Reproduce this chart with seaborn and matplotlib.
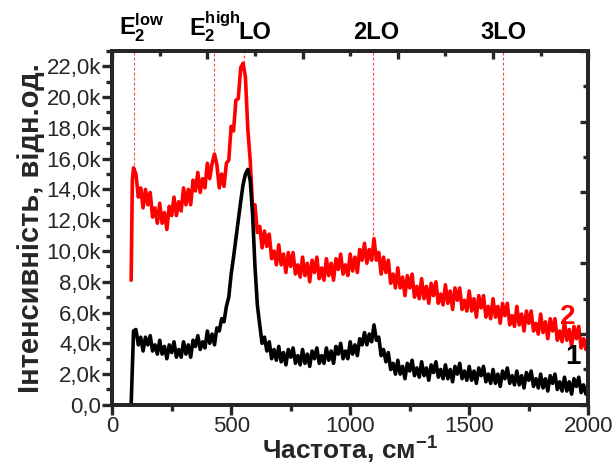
import numpy as np
import pandas as pd
import matplotlib
matplotlib.use("Agg")
import matplotlib.pyplot as plt
import seaborn as sns
from matplotlib.ticker import MultipleLocator, FuncFormatter

# ---------------- data ----------------
freq = [80, 85, 90] + list(range(100, 2001, 10))

# spectrum 2 (red), intensity in thousands
red_k = [
    8.1, 14.6, 15.4,
    15.0, 13.5, 14.1, 12.8, 14.0, 13.0, 13.8, 12.2, 12.8, 11.8,   # 100-190
    13.1, 11.8, 12.5, 11.4, 12.9, 12.3, 13.5, 12.3, 13.2, 12.6,   # 200-290
    14.1, 13.0, 14.0, 13.0, 14.6, 13.9, 15.1, 13.8, 14.7, 14.1,   # 300-390
    15.7, 14.7, 15.7, 16.3, 15.6, 14.1, 15.0, 14.2, 15.7, 15.9,   # 400-490
    18.1, 17.8, 19.8, 19.9, 21.9, 22.2, 21.3, 17.9, 15.9, 12.9,   # 500-590
    13.0, 11.2, 11.6, 10.2, 11.3, 10.3, 11.1, 9.5, 10.0, 9.1,     # 600-690
    10.4, 9.1, 9.8, 8.6, 9.9, 9.0, 9.9, 8.5, 9.1, 8.3,            # 700-790
    9.6, 8.4, 9.2, 8.0, 9.4, 8.6, 9.6, 8.2, 8.9, 8.1,             # 800-890
    9.5, 8.4, 9.2, 8.1, 9.5, 8.8, 9.8, 8.5, 9.1, 8.4,             # 900-990
    9.8, 8.7, 9.6, 8.6, 10.1, 9.4, 10.5, 9.2, 10.1, 9.4,          # 1000-1090
    10.8, 9.4, 9.9, 8.5, 9.6, 8.6, 9.4, 7.9, 8.5, 7.6,            # 1100-1190
    8.9, 7.6, 8.3, 7.1, 8.4, 7.6, 8.5, 7.0, 7.7, 6.9,             # 1200-1290
    8.2, 6.9, 7.7, 6.6, 7.9, 7.1, 8.0, 6.6, 7.2, 6.5,             # 1300-1390
    7.8, 6.6, 7.4, 6.2, 7.6, 6.8, 7.6, 6.2, 6.8, 6.1,             # 1400-1490
    7.4, 6.1, 6.9, 5.7, 7.1, 6.3, 7.1, 5.7, 6.4, 5.6,             # 1500-1590
    6.9, 5.7, 6.4, 5.3, 6.6, 5.8, 6.6, 5.2, 5.8, 5.1,             # 1600-1690
    6.4, 5.2, 5.9, 4.8, 6.1, 5.3, 6.1, 4.8, 5.3, 4.6,             # 1700-1790
    5.9, 4.7, 5.4, 4.3, 5.6, 4.8, 5.6, 4.2, 4.8, 4.1,             # 1800-1890
    5.4, 4.2, 4.9, 3.8, 5.1, 4.3, 5.1, 3.7, 4.3, 3.6,             # 1900-1990
    4.6,                                                          # 2000
]

# spectrum 1 (black), intensity in thousands
black_k = [
    0.0, 2.5, 4.8,
    4.9, 3.9, 4.4, 3.5, 4.4, 3.9, 4.5, 3.5, 3.9, 3.3,             # 100-190
    4.2, 3.3, 3.8, 3.0, 3.9, 3.4, 4.1, 3.1, 3.6, 3.1,             # 200-290
    4.1, 3.3, 3.9, 3.1, 4.2, 3.8, 4.5, 3.6, 4.1, 3.7,             # 300-390
    4.8, 4.0, 4.6, 3.9, 5.0, 4.8, 5.6, 5.4, 6.4, 7.0,             # 400-490
    8.5, 9.6, 10.8, 12.0, 13.2, 14.3, 15.0, 15.3, 14.6, 12.4,     # 500-590
    9.0, 6.5, 5.2, 4.0, 4.4, 3.5, 4.1, 3.0, 3.6, 2.9,             # 600-690
    3.8, 2.8, 3.4, 2.6, 3.6, 3.1, 3.7, 2.7, 3.2, 2.6,             # 700-790
    3.6, 2.7, 3.3, 2.5, 3.5, 3.0, 3.7, 2.7, 3.2, 2.7,             # 800-890
    3.7, 2.9, 3.5, 2.7, 3.8, 3.3, 4.0, 3.0, 3.5, 3.0,             # 900-990
    4.1, 3.3, 3.9, 3.2, 4.3, 3.9, 4.7, 3.9, 4.6, 4.1,             # 1000-1090
    5.2, 4.2, 4.4, 3.2, 3.6, 2.8, 3.4, 2.3, 2.7, 2.0,             # 1100-1190
    2.9, 2.0, 2.5, 1.7, 2.7, 2.2, 2.9, 1.9, 2.4, 1.8,             # 1200-1290
    2.8, 1.9, 2.4, 1.6, 2.6, 2.1, 2.8, 1.8, 2.3, 1.7,             # 1300-1390
    2.6, 1.7, 2.3, 1.5, 2.5, 2.0, 2.7, 1.7, 2.2, 1.6,             # 1400-1490
    2.5, 1.6, 2.2, 1.4, 2.4, 1.9, 2.5, 1.5, 2.0, 1.4,             # 1500-1590
    2.3, 1.4, 2.0, 1.2, 2.2, 1.7, 2.4, 1.4, 1.9, 1.3,             # 1600-1690
    2.2, 1.3, 1.9, 1.1, 2.1, 1.6, 2.2, 1.2, 1.7, 1.1,             # 1700-1790
    2.0, 1.1, 1.7, 0.9, 1.9, 1.4, 2.0, 1.0, 1.5, 0.9,             # 1800-1890
    1.8, 0.9, 1.5, 0.7, 1.7, 1.2, 1.8, 0.8, 1.3, 0.7,             # 1900-1990
    1.4,                                                          # 2000
]

peak_names = [r"$\mathbf{E_2^{low}}$", r"$\mathbf{E_2^{high}}$", "LO", "2LO", "3LO"]
peak_pos = [92, 430, 555, 1097, 1640]
peak_line_end_k = [15.6, 16.2, 21.9, 10.7, 6.8]
peak_label_x = [125, 430, 598, 1110, 1645]

series_labels = ["2", "1"]
series_label_pos = [(1880, 5.7), (1905, 3.1)]

xlabel = "Частота, см$\\mathbf{^{-1}}$"
ylabel = "Інтенсивність, відн.од."

df = pd.DataFrame({
    "freq": freq * 2,
    "intensity": [v * 1000 for v in red_k] + [v * 1000 for v in black_k],
    "series": ["2"] * len(freq) + ["1"] * len(freq),
})

# ---------------- style ----------------
sns.set_style("ticks")
plt.rcParams["font.family"] = ["Liberation Sans", "DejaVu Sans"]
plt.rcParams["mathtext.fontset"] = "custom"
plt.rcParams["mathtext.rm"] = "Liberation Sans"
plt.rcParams["mathtext.bf"] = "Liberation Sans:bold"
plt.rcParams["mathtext.it"] = "Liberation Sans:italic"

fig = plt.figure(figsize=(6.16, 4.67), dpi=100)
ax = fig.add_axes([0.182, 0.133, 0.773, 0.758])

sns.lineplot(data=df, x="freq", y="intensity", hue="series",
             palette={"2": "#ff0000", "1": "#000000"},
             hue_order=["2", "1"], estimator=None, sort=False,
             linewidth=2.6, legend=False, ax=ax)

ymax = 23000
ax.set_xlim(0, 2000)
ax.set_ylim(0, ymax)

# dashed peak lines
for pos, end in zip(peak_pos, peak_line_end_k):
    ax.vlines(pos, end * 1000, ymax, colors="#ff4040", linestyles=(0, (2.5, 2)),
              linewidth=0.8, zorder=0)

# peak labels above the axes
tr = ax.get_xaxis_transform()
for name, lx in zip(peak_names, peak_label_x):
    ax.text(lx, 1.02, name, transform=tr, ha="center", va="bottom",
            fontsize=17, fontweight="bold", color="black")

# series labels
for lab, (sx, sy), col in zip(series_labels, series_label_pos, ["#ff0000", "#000000"]):
    ax.text(sx, sy * 1000, lab, fontsize=20, fontweight="bold", color=col,
            ha="left", va="center")

# ticks and spines
ax.xaxis.set_major_locator(MultipleLocator(500))
ax.xaxis.set_minor_locator(MultipleLocator(250))
ax.yaxis.set_major_locator(MultipleLocator(2000))
ax.yaxis.set_minor_locator(MultipleLocator(1000))
ax.yaxis.set_major_formatter(FuncFormatter(
    lambda v, p: "0,0" if v == 0 else f"{v/1000:.1f}k".replace(".", ",")))
ax.tick_params(which="major", direction="out", length=7, width=2.4,
               labelsize=16, pad=1)
ax.tick_params(which="minor", direction="out", length=4, width=2.4)
for s in ax.spines.values():
    s.set_linewidth(2.6)
    s.set_visible(True)

ax_top = ax.twiny()
ax_top.set_xlim(0, 2000)
ax_top.xaxis.set_major_locator(MultipleLocator(400))
ax_top.xaxis.set_minor_locator(MultipleLocator(200))
ax_top.tick_params(which="major", direction="in", length=6, width=2.4, labeltop=False)
ax_top.tick_params(which="minor", direction="in", length=3.5, width=2.4)
ax_right = ax.twinx()
ax_right.set_ylim(0, ymax)
ax_right.yaxis.set_major_locator(MultipleLocator(4600))
ax_right.yaxis.set_minor_locator(MultipleLocator(2300))
ax_right.tick_params(which="major", direction="in", length=6, width=2.4, labelright=False)
ax_right.tick_params(which="minor", direction="in", length=3.5, width=2.4)
for a in (ax_top, ax_right):
    for s in a.spines.values():
        s.set_linewidth(2.6)

ax.set_xlabel(xlabel, fontsize=19, fontweight="bold")
ax.xaxis.set_label_coords(0.5, -0.085, transform=ax.transAxes)
ax.xaxis.label.set_va("top")
ax.set_ylabel(ylabel, fontsize=21, fontweight="bold", labelpad=1)

fig.savefig("out.png", dpi=100)
